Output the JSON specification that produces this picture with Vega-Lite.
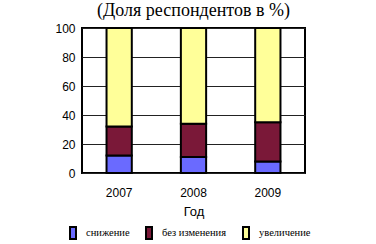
{
  "$schema": "https://vega.github.io/schema/vega-lite/v6.json",
  "autosize": "none",
  "width": 223,
  "height": 145,
  "padding": {"left": 82, "top": 28, "right": 71, "bottom": 71},
  "background": "white",
  "title": {
    "text": "(Доля респондентов в %)",
    "font": "Liberation Serif",
    "fontSize": 18,
    "fontWeight": "normal",
    "color": "black",
    "anchor": "middle",
    "offset": 2
  },
  "data": {
    "values": [
      {"year": "2007", "cat": "снижение", "order": 1, "value": 12},
      {"year": "2007", "cat": "без изменения", "order": 2, "value": 20},
      {"year": "2007", "cat": "увеличение", "order": 3, "value": 68},
      {"year": "2008", "cat": "снижение", "order": 1, "value": 11},
      {"year": "2008", "cat": "без изменения", "order": 2, "value": 23},
      {"year": "2008", "cat": "увеличение", "order": 3, "value": 66},
      {"year": "2009", "cat": "снижение", "order": 1, "value": 8},
      {"year": "2009", "cat": "без изменения", "order": 2, "value": 27},
      {"year": "2009", "cat": "увеличение", "order": 3, "value": 65}
    ]
  },
  "mark": {"type": "bar", "stroke": "black", "strokeWidth": 2},
  "encoding": {
    "x": {
      "field": "year",
      "type": "nominal",
      "title": "Год",
      "scale": {"paddingInner": 0.66, "paddingOuter": 0.33},
      "axis": {
        "labelAngle": 0,
        "labelFont": "Liberation Sans",
        "labelFontSize": 12,
        "labelColor": "black",
        "labelPadding": 14,
        "ticks": false,
        "domain": false,
        "titleFont": "Liberation Sans",
        "titleFontSize": 13,
        "titleFontWeight": "normal",
        "titleColor": "black",
        "titlePadding": 7
      }
    },
    "y": {
      "field": "value",
      "type": "quantitative",
      "stack": "zero",
      "title": null,
      "scale": {"domain": [0, 100]},
      "axis": {
        "values": [0, 20, 40, 60, 80, 100],
        "labelFont": "Liberation Sans",
        "labelFontSize": 12,
        "labelColor": "black",
        "labelPadding": 7,
        "ticks": false,
        "domain": false,
        "gridColor": "#222222",
        "gridWidth": 1,
        "gridOpacity": 1
      }
    },
    "color": {
      "field": "cat",
      "type": "nominal",
      "sort": ["снижение", "без изменения", "увеличение"],
      "scale": {
        "domain": ["снижение", "без изменения", "увеличение"],
        "range": ["#6a6aff", "#7a1838", "#ffff99"]
      },
      "legend": {
        "title": null,
        "orient": "none",
        "legendX": -16,
        "legendY": 198,
        "direction": "horizontal",
        "symbolType": "M-0.5,-1H0.5V1H-0.5Z",
        "symbolSize": 144,
        "symbolStrokeColor": "black",
        "symbolStrokeWidth": 2,
        "labelFont": "Liberation Sans Narrow",
        "labelFontSize": 10.5,
        "labelColor": "black",
        "columnPadding": 12,
        "labelOffset": 6
      }
    },
    "order": {"field": "order", "type": "quantitative"}
  },
  "config": {
    "view": {"stroke": "black", "strokeWidth": 2}
  }
}
